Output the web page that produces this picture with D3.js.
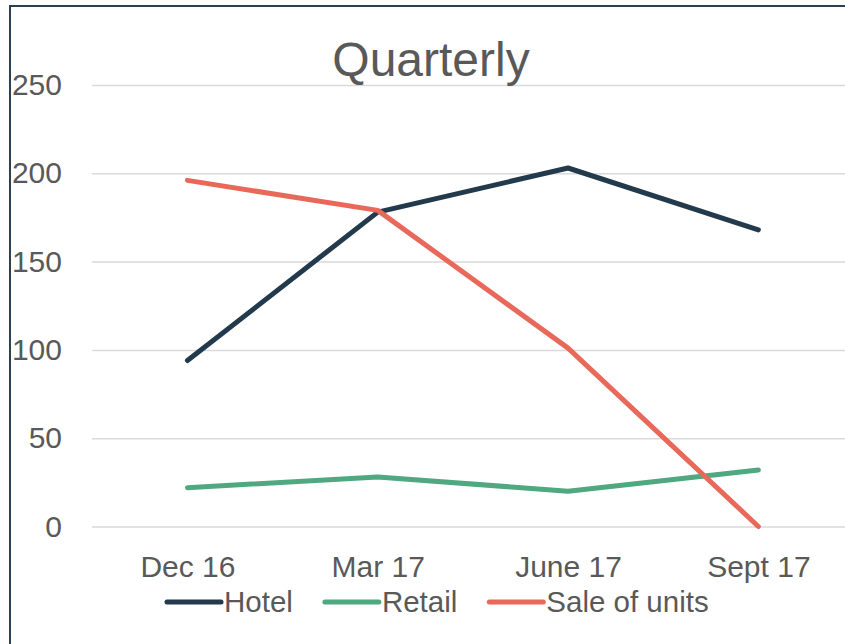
<!DOCTYPE html>
<html>
<head>
<meta charset="utf-8">
<script src="https://cdn.jsdelivr.net/npm/d3@7"></script>
<style>
  html, body { margin: 0; padding: 0; background: #fff; }
  svg { display: block; font-family: "Liberation Sans", Arial, sans-serif; }
</style>
</head>
<body>
<svg id="chart" width="845" height="644"></svg>
<script>
const categories = ["Dec 16", "Mar 17", "June 17", "Sept 17"];
const hotel = [94, 178, 203, 168];
const retail = [22, 28, 20, 32];
const saleOfUnits = [196, 179, 101, 0];
const yTicks = [0, 50, 100, 150, 200, 250];
const seriesNames = ["Hotel", "Retail", "Sale of units"];
const seriesColors = ["#233a4c", "#4fa880", "#e8685a"];
const title = "Quarterly";

const series = [hotel, retail, saleOfUnits].map((values, i) => ({
  name: seriesNames[i], color: seriesColors[i], values
}));

const svg = d3.select("#chart");
const textColor = "#595959";

// outer border (extends beyond the visible area on right/bottom)
svg.append("rect")
  .attr("x", 10).attr("y", 6).attr("width", 900).attr("height", 700)
  .attr("fill", "none").attr("stroke", "#2e3f50").attr("stroke-width", 2);

const x = d3.scalePoint().domain(categories).range([92.3, 853.5]).padding(0.5);
const y = d3.scaleLinear().domain([0, 250]).range([526.5, 85]);

// y axis with gridlines
const yAxis = svg.append("g")
  .attr("transform", "translate(92,0)")
  .call(d3.axisLeft(y).tickValues(yTicks).tickSize(-761).tickPadding(30).tickFormat(d3.format("d")));
yAxis.select(".domain").remove();
yAxis.selectAll(".tick line").attr("stroke", "#d9d9d9").attr("stroke-width", 1.5);
yAxis.selectAll(".tick text").attr("fill", textColor).attr("font-size", 30)
  .attr("font-family", "'Liberation Sans', Arial, sans-serif");

// x axis
const xAxis = svg.append("g")
  .attr("transform", "translate(0,526.5)")
  .call(d3.axisBottom(x).tickSize(0).tickPadding(29));
xAxis.select(".domain").remove();
xAxis.selectAll(".tick text").attr("fill", textColor).attr("font-size", 30)
  .attr("font-family", "'Liberation Sans', Arial, sans-serif");

// title
svg.append("text")
  .attr("x", 431).attr("y", 76)
  .attr("text-anchor", "middle")
  .attr("fill", textColor)
  .attr("font-size", 48)
  .text(title);

// lines
const line = d3.line()
  .x((d, i) => x(categories[i]))
  .y(d => y(d));

svg.append("g").selectAll("path")
  .data(series)
  .join("path")
  .attr("d", d => line(d.values))
  .attr("fill", "none")
  .attr("stroke", d => d.color)
  .attr("stroke-width", 5)
  .attr("stroke-linecap", "round")
  .attr("stroke-linejoin", "round");

// legend
const legend = svg.append("g").attr("transform", "translate(0,602)");
let lx = 167;
series.forEach(s => {
  legend.append("line")
    .attr("x1", lx).attr("x2", lx + 54)
    .attr("y1", 0).attr("y2", 0)
    .attr("stroke", s.color).attr("stroke-width", 5)
    .attr("stroke-linecap", "round");
  const t = legend.append("text")
    .attr("x", lx + 57).attr("y", 0).attr("dy", "0.35em")
    .attr("fill", textColor).attr("font-size", 29.5)
    .text(s.name);
  lx += 57 + t.node().getComputedTextLength() + 32;
});
</script>
</body>
</html>
